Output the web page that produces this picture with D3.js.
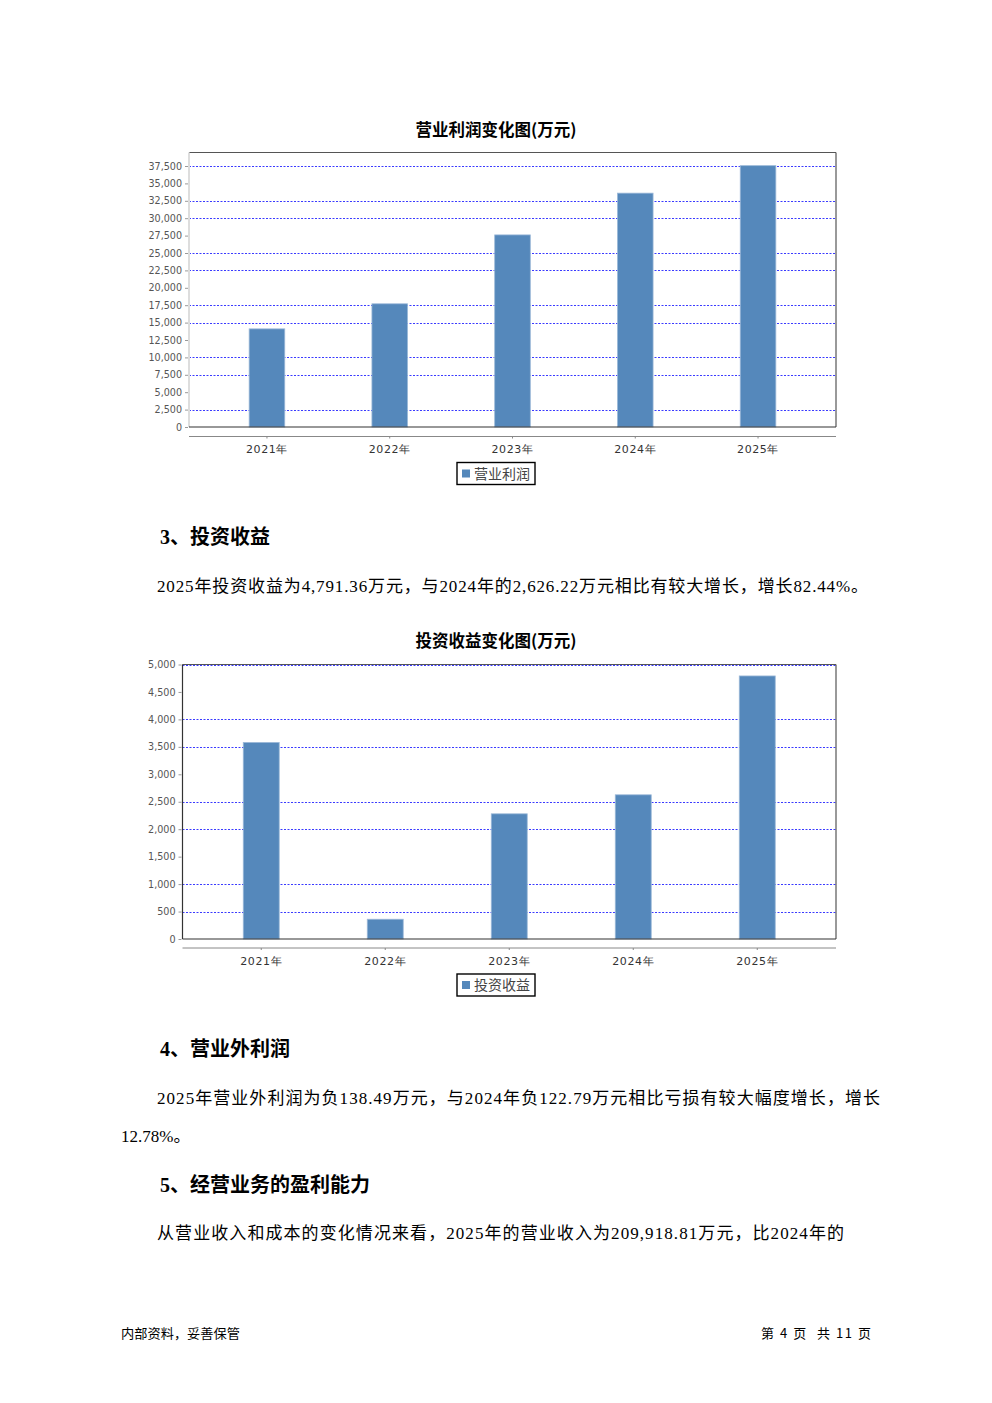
<!DOCTYPE html>
<html>
<head>
<meta charset="utf-8">
<script src="https://cdn.jsdelivr.net/npm/d3@7"></script>
<style>
  html, body { margin: 0; padding: 0; background: #fff; }
  svg { display: block; }
</style>
</head>
<body>
<div id="page"></div>
<script>
// ---------------- data ----------------
const years = ["2021年", "2022年", "2023年", "2024年", "2025年"];
const operatingProfit = [14100, 17700, 27600, 33600, 37550];
const investmentIncome = [3580, 360, 2280, 2626.22, 4791.36];
const profitTicks = [0, 2500, 5000, 7500, 10000, 12500, 15000, 17500, 20000, 22500, 25000, 27500, 30000, 32500, 35000, 37500];
const incomeTicks = [0, 500, 1000, 1500, 2000, 2500, 3000, 3500, 4000, 4500, 5000];
const profitTitle = "营业利润变化图(万元)";
const incomeTitle = "投资收益变化图(万元)";
const profitLegend = "营业利润";
const incomeLegend = "投资收益";

// ---------------- page ----------------
const W = 992, H = 1403;
const svg = d3.select("#page").append("svg").attr("width", W).attr("height", H);
svg.append("rect").attr("width", W).attr("height", H).attr("fill", "#fff");

const cjkSans = "'Noto Sans CJK SC', 'Noto Sans', sans-serif";
const bodyFont = "'Liberation Serif', 'Noto Sans CJK SC', serif";
const tickFont = "'DejaVu Sans', Verdana, sans-serif";

function drawChart(cfg) {
  const g = svg.append("g");
  const x = d3.scaleBand().domain(cfg.categories)
    .range([cfg.left, cfg.right]).paddingInner(0.71).paddingOuter(0.49);
  const y = d3.scaleLinear().domain([0, cfg.yMax]).range([cfg.bottom, cfg.top]);

  // title
  g.append("text").attr("x", 496).attr("y", cfg.titleY)
    .attr("text-anchor", "middle").attr("font-family", cjkSans)
    .attr("font-weight", "bold").attr("font-size", 16.5).attr("fill", "#000")
    .text(cfg.title);

  // gridlines (some rows vanish in the reference raster)
  g.append("g").selectAll("line").data(cfg.ticks.filter((t, i) => i > 0 && i % 3 !== cfg.skipMod))
    .join("line")
    .attr("x1", cfg.left).attr("x2", cfg.right)
    .attr("y1", d => Math.round(y(d)) + 0.5).attr("y2", d => Math.round(y(d)) + 0.5)
    .attr("stroke", "#3b3bff").attr("stroke-width", 1).attr("stroke-dasharray", "2,1.5");

  // y axis labels + tick marks
  const yAxis = d3.axisLeft(y).tickValues(cfg.ticks).tickSize(3).tickPadding(3)
    .tickFormat(d3.format(","));
  const ya = g.append("g").attr("transform", `translate(${cfg.left - 1},0)`).call(yAxis);
  ya.select(".domain").remove();
  ya.selectAll(".tick line").attr("stroke", "#999");
  ya.selectAll(".tick text").attr("font-family", tickFont).attr("font-size", 9.6)
    .attr("fill", "#555");

  // bars
  g.append("g").selectAll("rect").data(cfg.values).join("rect")
    .attr("x", (d, i) => x(cfg.categories[i]))
    .attr("y", d => y(d))
    .attr("width", x.bandwidth())
    .attr("height", d => y(0) - y(d))
    .attr("fill", "#5588bb")
    .attr("stroke", "#9bb8d8").attr("stroke-width", 0.8);

  // plot frame
  g.append("line").attr("x1", cfg.left).attr("x2", cfg.right)
    .attr("y1", cfg.top).attr("y2", cfg.top).attr("stroke", "#555").attr("stroke-width", 1.2);
  g.append("line").attr("x1", cfg.right).attr("x2", cfg.right)
    .attr("y1", cfg.top).attr("y2", cfg.bottom).attr("stroke", "#555").attr("stroke-width", 1.2);
  g.append("line").attr("x1", cfg.left).attr("x2", cfg.left)
    .attr("y1", cfg.top).attr("y2", cfg.bottom).attr("stroke", cfg.leftColor).attr("stroke-width", cfg.leftWidth);
  g.append("line").attr("x1", cfg.left).attr("x2", cfg.right)
    .attr("y1", cfg.bottom).attr("y2", cfg.bottom).attr("stroke", "#333").attr("stroke-width", 1.2);

  // category axis
  const xAxis = d3.axisBottom(x).tickSize(2).tickPadding(7);
  const xa = g.append("g").attr("transform", `translate(0,${cfg.axisY})`).call(xAxis);
  xa.select(".domain").attr("stroke", "#888").attr("d", `M${cfg.left},0H${cfg.right}`);
  xa.selectAll(".tick line").attr("stroke", "#888");
  xa.selectAll(".tick text").attr("font-family", tickFont).attr("font-size", 11)
    .attr("fill", "#333").attr("letter-spacing", 0.6);

  // legend
  const lg = g.append("g");
  lg.append("rect").attr("x", cfg.legendX).attr("y", cfg.legendY).attr("width", 78).attr("height", 22)
    .attr("fill", "#fff").attr("stroke", "#000").attr("stroke-width", 1.4);
  lg.append("rect").attr("x", cfg.legendX + 5).attr("y", cfg.legendY + 7).attr("width", 8).attr("height", 8)
    .attr("fill", "#5588bb");
  lg.append("text").attr("x", cfg.legendX + 17).attr("y", cfg.legendY + 16)
    .attr("font-family", cjkSans).attr("font-size", 14).attr("fill", "#444")
    .text(cfg.legend);
}

drawChart({
  categories: years, values: operatingProfit, ticks: profitTicks,
  title: profitTitle, legend: profitLegend,
  left: 189, right: 836, top: 152.5, bottom: 427, yMax: 39440,
  skipMod: 2, leftColor: "#ddd", leftWidth: 2,
  titleY: 135.5, axisY: 436.5, legendX: 457, legendY: 462.5
});

drawChart({
  categories: years, values: investmentIncome, ticks: incomeTicks,
  title: incomeTitle, legend: incomeLegend,
  left: 182.5, right: 836, top: 664.5, bottom: 939, yMax: 5000,
  skipMod: 0, leftColor: "#333", leftWidth: 1.2,
  titleY: 647, axisY: 948, legendX: 457, legendY: 974
});

// ---------------- body text ----------------
function heading(txt, x, y) {
  svg.append("text").attr("x", x).attr("y", y)
    .attr("font-family", "'Liberation Serif', 'Noto Sans CJK SC', serif")
    .attr("font-weight", "bold").attr("font-size", 20).attr("fill", "#000").text(txt);
}
function para(txt, x, y, len) {
  const t = svg.append("text").attr("x", x).attr("y", y)
    .attr("font-family", bodyFont).attr("font-size", 17).attr("fill", "#000").text(txt);
  if (len) t.attr("textLength", len).attr("lengthAdjust", "spacing");
}

heading("3、投资收益", 160, 544);
para("2025年投资收益为4,791.36万元，与2024年的2,626.22万元相比有较大增长，增长82.44%。", 157, 592, 711);
heading("4、营业外利润", 160, 1056);
para("2025年营业外利润为负138.49万元，与2024年负122.79万元相比亏损有较大幅度增长，增长", 157, 1104, 723);
para("12.78%。", 121, 1142);
heading("5、经营业务的盈利能力", 160, 1192);
para("从营业收入和成本的变化情况来看，2025年的营业收入为209,918.81万元，比2024年的", 157, 1239, 687);

// footer
svg.append("text").attr("x", 121).attr("y", 1338)
  .attr("font-family", cjkSans).attr("font-size", 13).attr("fill", "#000")
  .attr("textLength", 119).attr("lengthAdjust", "spacingAndGlyphs").text("内部资料，妥善保管");
svg.append("text").attr("x", 761).attr("y", 1338)
  .attr("font-family", cjkSans).attr("font-size", 13).attr("fill", "#000")
  .attr("textLength", 110).attr("lengthAdjust", "spacing")
  .style("white-space", "pre").text("第 4 页  共 11 页");
</script>
</body>
</html>
